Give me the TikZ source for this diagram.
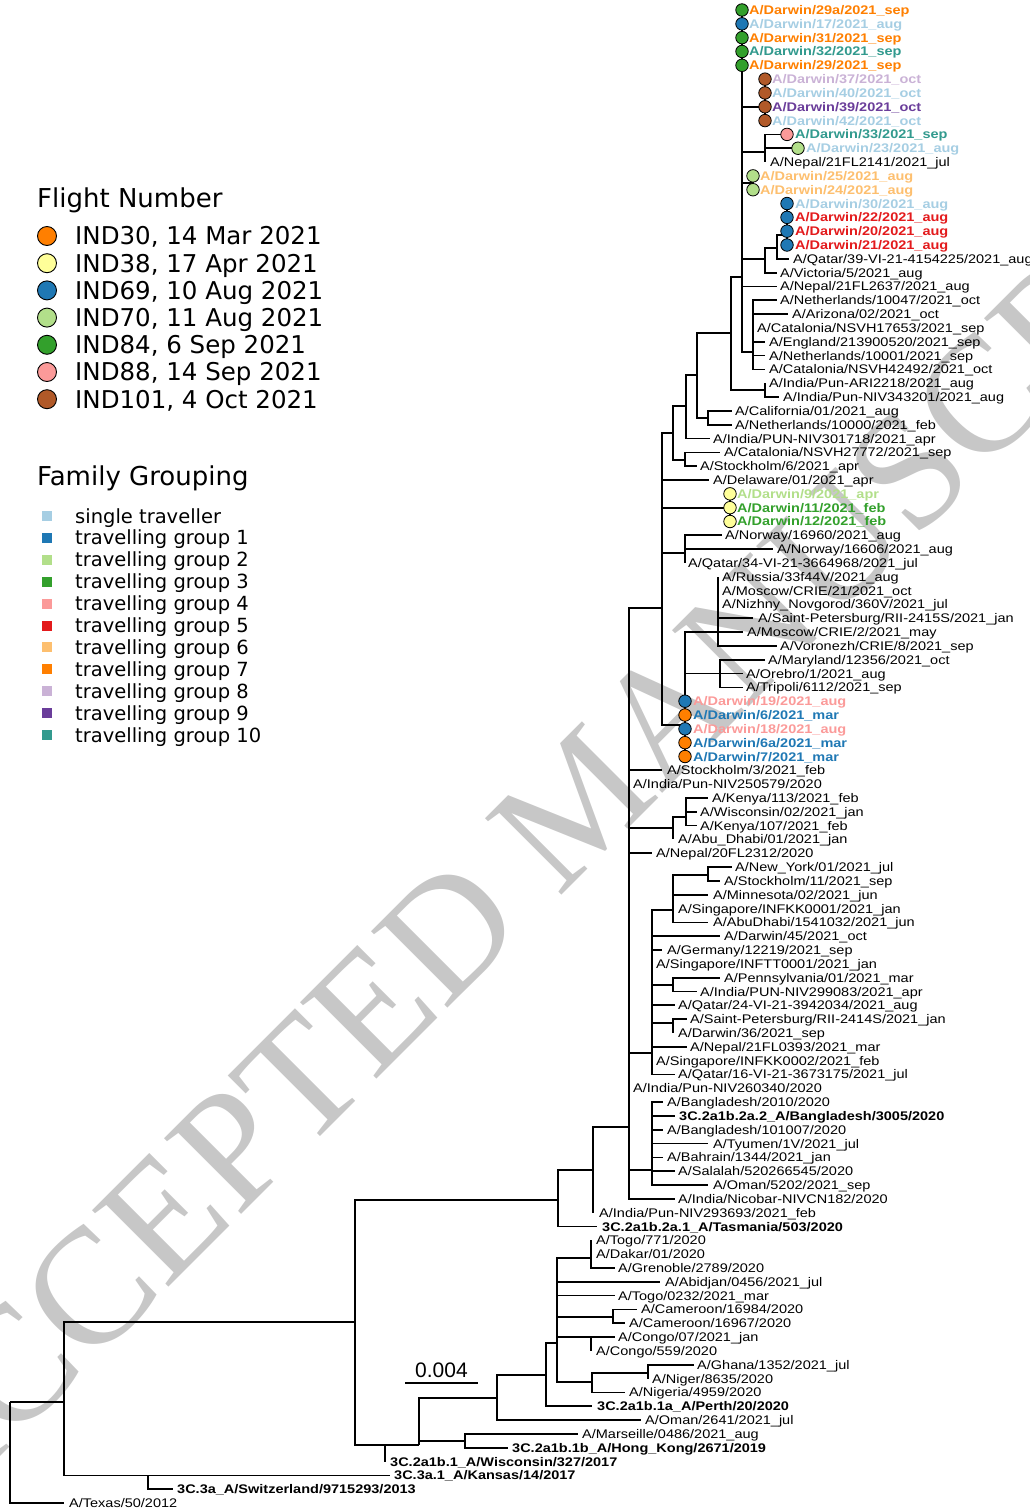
\documentclass[tikz,border=0pt]{standalone}
\usepackage{fontspec}
\setmainfont{Liberation Sans}
\newfontfamily\labf[FakeStretch=1.16]{Liberation Sans}
\newfontfamily\legf{DejaVu Sans}
\newfontfamily\wmf{Liberation Serif}
\definecolor{cS}{HTML}{A6CEE3}
\definecolor{cGa}{HTML}{1F78B4}
\definecolor{cGb}{HTML}{B2DF8A}
\definecolor{cGc}{HTML}{33A02C}
\definecolor{cGd}{HTML}{FB9A99}
\definecolor{cGe}{HTML}{E31A1C}
\definecolor{cGf}{HTML}{FDBF6F}
\definecolor{cGg}{HTML}{FF7F00}
\definecolor{cGh}{HTML}{CAB2D6}
\definecolor{cGi}{HTML}{6A3D9A}
\definecolor{cGj}{HTML}{329A8E}
\definecolor{fA}{HTML}{FF7F00}
\definecolor{fB}{HTML}{FFFF99}
\definecolor{fC}{HTML}{1F78B4}
\definecolor{fD}{HTML}{B2DF8A}
\definecolor{fE}{HTML}{33A02C}
\definecolor{fF}{HTML}{FB9A99}
\definecolor{fG}{HTML}{B15928}
\pgfmathdeclarefunction{R}{1}{\pgfmathparse{13.824*#1-3.824}}
\newcommand\lf[5]{\coordinate (t#1) at (#2,{R(#1)});\node[lab,#4] (n#1) at (#3,{R(#1)}) {#5};}
\newcommand\fc[2]{\node[fdot,fill=#2] (c#1) at (t#1) {};}
\begin{document}
\begin{tikzpicture}[x=1pt,y=-1pt,
  lab/.style={anchor=west,inner sep=0pt,text height=9pt,text depth=0pt,font=\labf\fontsize{12.5}{14}\selectfont},
  dar/.style={font=\labf\fontsize{12.5}{14}\selectfont\bfseries},
  br/.style={line width=1.7pt},
  fdot/.style={circle,draw=black,line width=0.8pt,minimum size=12.5pt,inner sep=0pt},
  ldot/.style={circle,draw=black,line width=0.9pt,minimum size=19pt,inner sep=0pt},
  sq/.style={rectangle,minimum size=10pt,inner sep=0pt},
  legt/.style={anchor=base west,inner sep=0pt,font=\legf\fontsize{24.5}{28}\selectfont},
  legs/.style={anchor=base west,inner sep=0pt,font=\legf\fontsize{19.5}{22}\selectfont},
  legh/.style={anchor=base west,inner sep=0pt,font=\legf\fontsize{26}{30}\selectfont}]
\useasboundingbox (0,0) rectangle (1029,1510);
% watermark
\node[rotate=45,font=\wmf\fontsize{165}{170}\selectfont,text=black!22,inner sep=0pt] (wm) at (580,800) {ACCEPTED MANUSCRIPT};
% internal nodes
\coordinate (ROOT) at (10,1402);
\coordinate (Y) at (64,1402);
\coordinate (Z) at (148,{R(107)});
\coordinate (W) at (355,1322);
\coordinate (X) at (385,1445);
\coordinate (AA) at (419,1445);
\coordinate (AC) at (465,1441);
\coordinate (AB) at (497,1398);
\coordinate (AD) at (546,1375);
\coordinate (AE) at (557,1343);
\coordinate (T1) at (591,1258);
\coordinate (CM) at (613,1317);
\coordinate (CG) at (591,{R(97)});
\coordinate (AF) at (592,1382);
\coordinate (AG) at (648,1373);
\coordinate (VV) at (558,1200);
\coordinate (V) at (593,1170);
\coordinate (O) at (629,1127);
\coordinate (U) at (652,1170);
\coordinate (S) at (652,1053);
\coordinate (SP) at (673,1023);
\coordinate (PE) at (673,985);
\coordinate (RR) at (673,910);
\coordinate (Q) at (708,875);
\coordinate (KE) at (673,828);
\coordinate (KE2) at (686,817);
\coordinate (M) at (662,608);
\coordinate (P) at (685,725);
\coordinate (MOT) at (720,{R(49)});
\coordinate (R1) at (718,632);
\coordinate (N) at (685,553);
\coordinate (N9) at (730,{R(37)});
\coordinate (K) at (673,433);
\coordinate (L) at (685,460);
\coordinate (J) at (686,406);
\coordinate (H) at (697,375);
\coordinate (I) at (708,418);
\coordinate (G) at (731,333);
\coordinate (G2) at (765,390);
\coordinate (A) at (742,277);
\coordinate (B) at (765,{R(8)});
\coordinate (C) at (765,152);
\coordinate (D) at (753,183);
\coordinate (E) at (765,{R(19)});
\coordinate (E2) at (777,248);
\coordinate (E3) at (787,235);
\coordinate (F) at (753,352);
% leaves
\lf{1}{742}{749}{dar,text=cGg}{A/Darwin/29a/2021\_sep}
\lf{2}{742}{749}{dar,text=cS}{A/Darwin/17/2021\_aug}
\lf{3}{742}{749}{dar,text=cGg}{A/Darwin/31/2021\_sep}
\lf{4}{742}{749}{dar,text=cGj}{A/Darwin/32/2021\_sep}
\lf{5}{742}{749}{dar,text=cGg}{A/Darwin/29/2021\_sep}
\lf{6}{765}{772}{dar,text=cGh}{A/Darwin/37/2021\_oct}
\lf{7}{765}{772}{dar,text=cS}{A/Darwin/40/2021\_oct}
\lf{8}{765}{772}{dar,text=cGi}{A/Darwin/39/2021\_oct}
\lf{9}{765}{772}{dar,text=cS}{A/Darwin/42/2021\_oct}
\lf{10}{787}{795}{dar,text=cGj}{A/Darwin/33/2021\_sep}
\lf{11}{798}{806}{dar,text=cS}{A/Darwin/23/2021\_aug}
\lf{12}{765}{770}{}{A/Nepal/21FL2141/2021\_jul}
\lf{13}{753}{760}{dar,text=cGf}{A/Darwin/25/2021\_aug}
\lf{14}{753}{760}{dar,text=cGf}{A/Darwin/24/2021\_aug}
\lf{15}{787}{795}{dar,text=cS}{A/Darwin/30/2021\_aug}
\lf{16}{787}{795}{dar,text=cGe}{A/Darwin/22/2021\_aug}
\lf{17}{787}{795}{dar,text=cGe}{A/Darwin/20/2021\_aug}
\lf{18}{787}{795}{dar,text=cGe}{A/Darwin/21/2021\_aug}
\lf{19}{789}{793}{}{A/Qatar/39-VI-21-4154225/2021\_aug}
\lf{20}{777}{780}{}{A/Victoria/5/2021\_aug}
\lf{21}{777}{780}{}{A/Nepal/21FL2637/2021\_aug}
\lf{22}{777}{780}{}{A/Netherlands/10047/2021\_oct}
\lf{23}{788}{792}{}{A/Arizona/02/2021\_oct}
\lf{24}{753}{757}{}{A/Catalonia/NSVH17653/2021\_sep}
\lf{25}{765}{769}{}{A/England/213900520/2021\_sep}
\lf{26}{765}{769}{}{A/Netherlands/10001/2021\_sep}
\lf{27}{765}{769}{}{A/Catalonia/NSVH42492/2021\_oct}
\lf{28}{765}{769}{}{A/India/Pun-ARI2218/2021\_aug}
\lf{29}{779}{783}{}{A/India/Pun-NIV343201/2021\_aug}
\lf{30}{732}{735}{}{A/California/01/2021\_aug}
\lf{31}{732}{735}{}{A/Netherlands/10000/2021\_feb}
\lf{32}{710}{713}{}{A/India/PUN-NIV301718/2021\_apr}
\lf{33}{720}{724}{}{A/Catalonia/NSVH27772/2021\_sep}
\lf{34}{697}{700}{}{A/Stockholm/6/2021\_apr}
\lf{35}{709}{713}{}{A/Delaware/01/2021\_apr}
\lf{36}{730}{737}{dar,text=cGb}{A/Darwin/9/2021\_apr}
\lf{37}{730}{737}{dar,text=cGc}{A/Darwin/11/2021\_feb}
\lf{38}{730}{737}{dar,text=cGc}{A/Darwin/12/2021\_feb}
\lf{39}{722}{725}{}{A/Norway/16960/2021\_aug}
\lf{40}{773}{777}{}{A/Norway/16606/2021\_aug}
\lf{41}{685}{688}{}{A/Qatar/34-VI-21-3664968/2021\_jul}
\lf{42}{718}{722}{}{A/Russia/33f44V/2021\_aug}
\lf{43}{718}{722}{}{A/Moscow/CRIE/21/2021\_oct}
\lf{44}{718}{722}{}{A/Nizhny\_Novgorod/360V/2021\_jul}
\lf{45}{753}{758}{}{A/Saint-Petersburg/RII-2415S/2021\_jan}
\lf{46}{743}{747}{}{A/Moscow/CRIE/2/2021\_may}
\lf{47}{777}{780}{}{A/Voronezh/CRIE/8/2021\_sep}
\lf{48}{765}{768}{}{A/Maryland/12356/2021\_oct}
\lf{49}{743}{746}{}{A/Orebro/1/2021\_aug}
\lf{50}{743}{746}{}{A/Tripoli/6112/2021\_sep}
\lf{51}{685}{693}{dar,text=cGd}{A/Darwin/19/2021\_aug}
\lf{52}{685}{693}{dar,text=cGa}{A/Darwin/6/2021\_mar}
\lf{53}{685}{693}{dar,text=cGd}{A/Darwin/18/2021\_aug}
\lf{54}{685}{693}{dar,text=cGa}{A/Darwin/6a/2021\_mar}
\lf{55}{685}{693}{dar,text=cGa}{A/Darwin/7/2021\_mar}
\lf{56}{662}{667}{}{A/Stockholm/3/2021\_feb}
\lf{57}{629}{633}{}{A/India/Pun-NIV250579/2020}
\lf{58}{708}{712}{}{A/Kenya/113/2021\_feb}
\lf{59}{697}{700}{}{A/Wisconsin/02/2021\_jan}
\lf{60}{697}{700}{}{A/Kenya/107/2021\_feb}
\lf{61}{673}{678}{}{A/Abu\_Dhabi/01/2021\_jan}
\lf{62}{652}{656}{}{A/Nepal/20FL2312/2020}
\lf{63}{732}{735}{}{A/New\_York/01/2021\_jul}
\lf{64}{720}{724}{}{A/Stockholm/11/2021\_sep}
\lf{65}{708}{713}{}{A/Minnesota/02/2021\_jun}
\lf{66}{673}{678}{}{A/Singapore/INFKK0001/2021\_jan}
\lf{67}{708}{713}{}{A/AbuDhabi/1541032/2021\_jun}
\lf{68}{720}{724}{}{A/Darwin/45/2021\_oct}
\lf{69}{662}{667}{}{A/Germany/12219/2021\_sep}
\lf{70}{652}{656}{}{A/Singapore/INFTT0001/2021\_jan}
\lf{71}{720}{724}{}{A/Pennsylvania/01/2021\_mar}
\lf{72}{697}{700}{}{A/India/PUN-NIV299083/2021\_apr}
\lf{73}{675}{678}{}{A/Qatar/24-VI-21-3942034/2021\_aug}
\lf{74}{687}{690}{}{A/Saint-Petersburg/RII-2414S/2021\_jan}
\lf{75}{673}{678}{}{A/Darwin/36/2021\_sep}
\lf{76}{687}{690}{}{A/Nepal/21FL0393/2021\_mar}
\lf{77}{652}{656}{}{A/Singapore/INFKK0002/2021\_feb}
\lf{78}{675}{678}{}{A/Qatar/16-VI-21-3673175/2021\_jul}
\lf{79}{629}{633}{}{A/India/Pun-NIV260340/2020}
\lf{80}{663}{667}{}{A/Bangladesh/2010/2020}
\lf{81}{675}{679}{dar}{3C.2a1b.2a.2\_A/Bangladesh/3005/2020}
\lf{82}{663}{667}{}{A/Bangladesh/101007/2020}
\lf{83}{708}{713}{}{A/Tyumen/1V/2021\_jul}
\lf{84}{663}{667}{}{A/Bahrain/1344/2021\_jan}
\lf{85}{675}{678}{}{A/Salalah/520266545/2020}
\lf{86}{708}{713}{}{A/Oman/5202/2021\_sep}
\lf{87}{675}{678}{}{A/India/Nicobar-NIVCN182/2020}
\lf{88}{593}{599}{}{A/India/Pun-NIV293693/2021\_feb}
\lf{89}{597}{602}{dar}{3C.2a1b.2a.1\_A/Tasmania/503/2020}
\lf{90}{591}{596}{}{A/Togo/771/2020}
\lf{91}{591}{596}{}{A/Dakar/01/2020}
\lf{92}{615}{618}{}{A/Grenoble/2789/2020}
\lf{93}{660}{665}{}{A/Abidjan/0456/2021\_jul}
\lf{94}{615}{618}{}{A/Togo/0232/2021\_mar}
\lf{95}{637}{641}{}{A/Cameroon/16984/2020}
\lf{96}{625}{629}{}{A/Cameroon/16967/2020}
\lf{97}{615}{618}{}{A/Congo/07/2021\_jan}
\lf{98}{591}{596}{}{A/Congo/559/2020}
\lf{99}{694}{697}{}{A/Ghana/1352/2021\_jul}
\lf{100}{648}{652}{}{A/Niger/8635/2020}
\lf{101}{625}{629}{}{A/Nigeria/4959/2020}
\lf{102}{592}{597}{dar}{3C.2a1b.1a\_A/Perth/20/2020}
\lf{103}{641}{645}{}{A/Oman/2641/2021\_jul}
\lf{104}{578}{582}{}{A/Marseille/0486/2021\_aug}
\lf{105}{508}{512}{dar}{3C.2a1b.1b\_A/Hong\_Kong/2671/2019}
\lf{106}{385}{390}{dar}{3C.2a1b.1\_A/Wisconsin/327/2017}
\lf{107}{390}{394}{dar}{3C.3a.1\_A/Kansas/14/2017}
\lf{108}{173}{177}{dar}{3C.3a\_A/Switzerland/9715293/2013}
\lf{109}{64}{69}{}{A/Texas/50/2012}
% branches
\foreach \p/\c in {ROOT/Y,ROOT/t109,Y/W,Y/Z,Z/t107,Z/t108,W/VV,W/X,X/AA,X/t106,AA/AB,AA/AC,AC/t104,AC/t105,
  AB/AD,AB/t103,AD/AE,AD/t102,AE/T1,AE/t93,AE/t94,AE/CM,AE/CG,AE/AF,T1/t90,T1/t91,T1/t92,CM/t95,CM/t96,
  CG/t97,CG/t98,AF/AG,AF/t101,AG/t99,AG/t100,VV/V,VV/t89,V/O,V/t88,O/M,O/t56,O/t57,O/KE,O/t62,O/S,O/t79,
  O/U,O/t87,KE/KE2,KE/t61,KE2/t58,KE2/t59,KE2/t60,S/RR,S/t68,S/t69,S/t70,S/PE,S/t73,S/SP,S/t76,S/t77,S/t78,
  RR/Q,RR/t65,RR/t66,RR/t67,Q/t63,Q/t64,PE/t71,PE/t72,SP/t74,SP/t75,U/t80,U/t81,U/t82,U/t83,U/t84,U/t85,U/t86,
  M/K,M/t35,M/N9,M/N,M/P,K/J,K/L,J/H,J/t32,H/G,H/I,G/A,G/G2,G2/t28,G2/t29,I/t30,I/t31,L/t33,L/t34,
  N9/t36,N9/t37,N9/t38,N/t39,N/t40,N/t41,P/R1,P/MOT,P/t51,P/t52,P/t53,P/t54,P/t55,
  R1/t42,R1/t43,R1/t44,R1/t45,R1/t46,R1/t47,MOT/t48,MOT/t49,MOT/t50,
  A/t1,A/t2,A/t3,A/t4,A/t5,A/B,A/C,A/D,A/E,A/t21,A/F,B/t6,B/t7,B/t8,B/t9,C/t10,C/t11,C/t12,D/t13,D/t14,
  E/E2,E/t20,E2/E3,E2/t19,E3/t15,E3/t16,E3/t17,E3/t18,F/t22,F/t23,F/t24,F/t25,F/t26,F/t27}
  {\draw[br] (\p) |- (\c);}
% flight circles
\fc{1}{fE}\fc{2}{fC}\fc{3}{fE}\fc{4}{fE}\fc{5}{fE}
\fc{6}{fG}\fc{7}{fG}\fc{8}{fG}\fc{9}{fG}
\fc{10}{fF}\fc{11}{fD}\fc{13}{fD}\fc{14}{fD}
\fc{15}{fC}\fc{16}{fC}\fc{17}{fC}\fc{18}{fC}
\fc{36}{fB}\fc{37}{fB}\fc{38}{fB}
\fc{51}{fC}\fc{52}{fA}\fc{53}{fC}\fc{54}{fA}\fc{55}{fA}
% scale bar
\coordinate (sb1) at (405,1383);
\coordinate (sb2) at (478,1383);
\draw[line width=1.6pt] (sb1) -- (sb2);
\node[anchor=base,inner sep=0pt,font=\fontsize{21}{24}\selectfont] (sbl) at (441.5,1377) {0.004};
% legend: flights
\node[legh] (hf) at (37,207.5) {Flight Number};
\foreach \col/\txt [count=\i] in {fA/{IND30, 14 Mar 2021},fB/{IND38, 17 Apr 2021},fC/{IND69, 10 Aug 2021},
  fD/{IND70, 11 Aug 2021},fE/{IND84, 6 Sep 2021},fF/{IND88, 14 Sep 2021},fG/{IND101, 4 Oct 2021}}
  {\node[ldot,fill=\col] (lf\i) at (47,{236+27.2*(\i-1)}) {};
   \node[legt] (lt\i) at (75,{244.8+27.2*(\i-1)}) {\txt};}
% legend: families
\node[legh] (hg) at (37,485.5) {Family Grouping};
\foreach \col/\txt [count=\i] in {cS/{single traveller},cGa/{travelling group 1},cGb/{travelling group 2},
  cGc/{travelling group 3},cGd/{travelling group 4},cGe/{travelling group 5},cGf/{travelling group 6},
  cGg/{travelling group 7},cGh/{travelling group 8},cGi/{travelling group 9},cGj/{travelling group 10}}
  {\node[sq,fill=\col] (ls\i) at (47,{516+21.9*(\i-1)}) {};
   \node[legs] (lg\i) at (75,{523+21.9*(\i-1)}) {\txt};}
\end{tikzpicture}
\end{document}
